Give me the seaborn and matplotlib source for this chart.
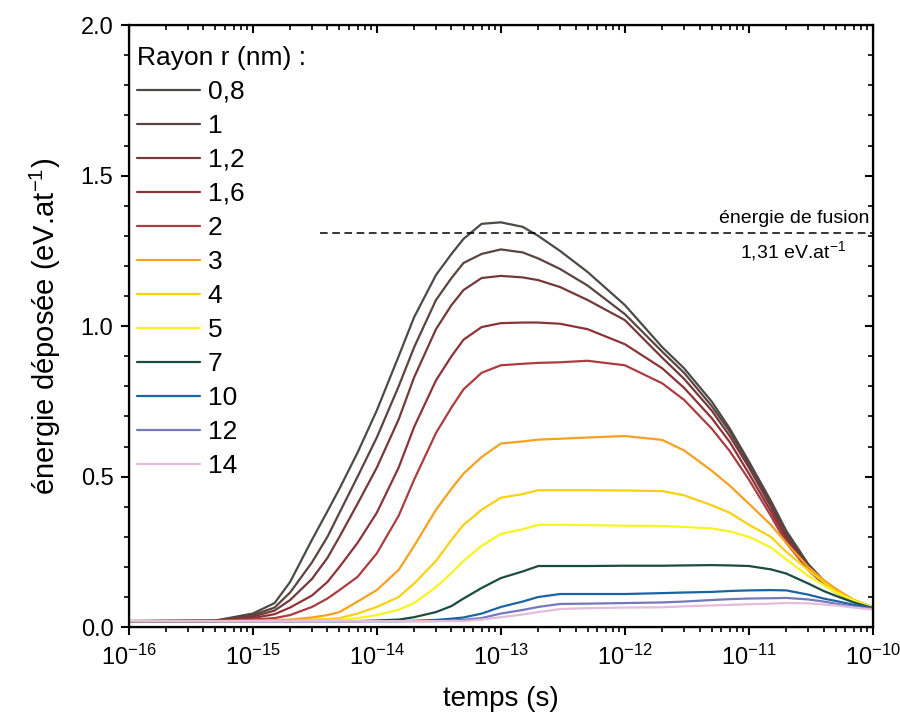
import matplotlib
matplotlib.use("Agg")
import matplotlib.pyplot as plt
import matplotlib.ticker as mticker
import numpy as np
import pandas as pd
import seaborn as sns

# time points (s)
temps = [1e-16, 5e-16, 1e-15, 1.5e-15, 2e-15, 3e-15, 4e-15, 5e-15, 7e-15, 1e-14,
         1.5e-14, 2e-14, 3e-14, 4e-14, 5e-14, 7e-14, 1e-13, 1.5e-13, 2e-13, 3e-13,
         5e-13, 1e-12, 2e-12, 3e-12, 5e-12, 7e-12, 1e-11, 1.5e-11, 2e-11, 3e-11,
         4e-11, 5e-11, 7e-11, 1e-10]

# deposited energy (eV/at) per radius
e_r08 = [0.02, 0.022, 0.045, 0.08, 0.15, 0.29, 0.385, 0.46, 0.58, 0.72,
         0.90, 1.03, 1.17, 1.24, 1.29, 1.34, 1.345, 1.33, 1.30, 1.25,
         1.18, 1.07, 0.93, 0.86, 0.75, 0.66, 0.55, 0.42, 0.32, 0.21,
         0.155, 0.125, 0.09, 0.065]
e_r1 = [0.02, 0.021, 0.04, 0.065, 0.115, 0.215, 0.30, 0.38, 0.50, 0.63,
        0.80, 0.93, 1.087, 1.16, 1.21, 1.24, 1.255, 1.245, 1.225, 1.19,
        1.135, 1.04, 0.915, 0.845, 0.735, 0.65, 0.54, 0.41, 0.31, 0.205,
        0.152, 0.122, 0.088, 0.065]
e_r12 = [0.02, 0.021, 0.035, 0.055, 0.09, 0.16, 0.23, 0.30, 0.41, 0.53,
         0.69, 0.83, 0.99, 1.07, 1.12, 1.16, 1.167, 1.162, 1.153, 1.13,
         1.087, 1.02, 0.895, 0.825, 0.72, 0.635, 0.53, 0.40, 0.30, 0.20,
         0.15, 0.12, 0.087, 0.065]
e_r16 = [0.02, 0.02, 0.03, 0.043, 0.065, 0.105, 0.15, 0.20, 0.28, 0.38,
         0.53, 0.665, 0.82, 0.90, 0.955, 0.997, 1.01, 1.012, 1.012, 1.008,
         0.99, 0.94, 0.86, 0.795, 0.695, 0.615, 0.51, 0.385, 0.29, 0.195,
         0.147, 0.118, 0.086, 0.065]
e_r2 = [0.02, 0.02, 0.025, 0.03, 0.04, 0.067, 0.095, 0.123, 0.167, 0.245,
        0.37, 0.49, 0.645, 0.73, 0.79, 0.845, 0.87, 0.875, 0.878, 0.88,
        0.885, 0.87, 0.81, 0.755, 0.66, 0.585, 0.49, 0.37, 0.28, 0.19,
        0.143, 0.115, 0.085, 0.065]
e_r3 = [0.02, 0.02, 0.022, 0.023, 0.025, 0.032, 0.04, 0.05, 0.085, 0.123,
        0.19, 0.27, 0.39, 0.46, 0.51, 0.565, 0.61, 0.617, 0.623, 0.626,
        0.63, 0.635, 0.622, 0.587, 0.52, 0.47, 0.41, 0.34, 0.28, 0.20,
        0.156, 0.128, 0.09, 0.065]
e_r4 = [0.02, 0.02, 0.02, 0.021, 0.022, 0.025, 0.027, 0.03, 0.045, 0.067,
        0.10, 0.145, 0.22, 0.29, 0.34, 0.39, 0.43, 0.442, 0.455, 0.455,
        0.455, 0.454, 0.452, 0.438, 0.405, 0.38, 0.34, 0.30, 0.25, 0.19,
        0.15, 0.12, 0.09, 0.065]
e_r5 = [0.02, 0.02, 0.02, 0.02, 0.02, 0.021, 0.022, 0.024, 0.03, 0.04,
        0.058, 0.08, 0.133, 0.18, 0.22, 0.27, 0.31, 0.325, 0.34, 0.34,
        0.339, 0.337, 0.336, 0.333, 0.328, 0.318, 0.30, 0.265, 0.225, 0.17,
        0.14, 0.115, 0.088, 0.065]
e_r7 = [0.02, 0.02, 0.02, 0.02, 0.02, 0.02, 0.02, 0.02, 0.02, 0.022,
        0.025, 0.033, 0.05, 0.07, 0.095, 0.13, 0.163, 0.185, 0.203, 0.203,
        0.203, 0.204, 0.204, 0.205, 0.206, 0.205, 0.203, 0.192, 0.178, 0.145,
        0.12, 0.104, 0.082, 0.063]
e_r10 = [0.02, 0.02, 0.02, 0.02, 0.02, 0.02, 0.02, 0.02, 0.02, 0.02,
         0.02, 0.021, 0.024, 0.028, 0.032, 0.045, 0.067, 0.085, 0.10, 0.11,
         0.11, 0.11, 0.113, 0.115, 0.117, 0.12, 0.122, 0.123, 0.122, 0.108,
         0.095, 0.087, 0.074, 0.063]
e_r12b = [0.02, 0.02, 0.02, 0.02, 0.02, 0.02, 0.02, 0.02, 0.02, 0.02,
          0.02, 0.02, 0.02, 0.022, 0.024, 0.03, 0.045, 0.057, 0.067, 0.077,
          0.078, 0.08, 0.082, 0.085, 0.09, 0.093, 0.095, 0.096, 0.097, 0.092,
          0.085, 0.078, 0.068, 0.06]
e_r14 = [0.02, 0.02, 0.02, 0.02, 0.02, 0.02, 0.02, 0.02, 0.02, 0.02,
         0.02, 0.02, 0.02, 0.02, 0.02, 0.025, 0.033, 0.042, 0.05, 0.06,
         0.063, 0.065, 0.066, 0.069, 0.072, 0.074, 0.076, 0.078, 0.08, 0.079,
         0.075, 0.072, 0.065, 0.058]

rayons = ["0,8", "1", "1,2", "1,6", "2", "3", "4", "5", "7", "10", "12", "14"]
series = [e_r08, e_r1, e_r12, e_r16, e_r2, e_r3, e_r4, e_r5, e_r7, e_r10, e_r12b, e_r14]
couleurs = ["#4a4a46", "#5a4440", "#74393a", "#8c3338", "#ac3c40", "#f8a020",
            "#fad010", "#f8f420", "#1a4c40", "#1a64a4", "#7478bc", "#e4bcdc"]

fusion = 1.31
x_ticks = [1e-16, 1e-15, 1e-14, 1e-13, 1e-12, 1e-11, 1e-10]

df = pd.concat([pd.DataFrame({"temps": temps, "energie": e, "rayon": r})
                for r, e in zip(rayons, series)], ignore_index=True)

sns.set_style("ticks")
plt.rcParams["font.family"] = ["Liberation Sans", "DejaVu Sans"]
plt.rcParams["mathtext.default"] = "regular"
for k in ["text.color", "axes.labelcolor", "xtick.color", "ytick.color", "axes.edgecolor"]:
    plt.rcParams[k] = "black"

fig = plt.figure(figsize=(9, 7.2), dpi=100)
ax = fig.add_axes([0.143, 0.129, 0.827, 0.836])

sns.lineplot(data=df, x="temps", y="energie", hue="rayon", hue_order=rayons,
             palette=couleurs, linewidth=1.6, ax=ax, legend=True)

ax.set_xscale("log")
ax.set_xlim(1e-16, 1e-10)
ax.set_ylim(0, 2.0)

# melting energy reference
ax.plot([3.5e-15, 1e-10], [fusion, fusion], color="black", linestyle=(0, (5, 3)), linewidth=1.1)
ax.text(9.3e-11, fusion + 0.02, "énergie de fusion", ha="right", va="bottom", fontsize=14)
ax.text(6.0e-11, fusion - 0.02, "1,31 eV.at$^{-1}$", ha="right", va="top", fontsize=14)

ax.set_xlabel("temps (s)", fontsize=20, labelpad=11)
ax.set_ylabel("énergie déposée (eV.at$^{-1}$)", fontsize=21, labelpad=13)

ax.set_xticks(x_ticks)
ax.xaxis.set_minor_locator(mticker.LogLocator(base=10, subs=np.arange(2, 10), numticks=20))
ax.xaxis.set_minor_formatter(mticker.NullFormatter())
ax.yaxis.set_major_locator(mticker.MultipleLocator(0.5))
ax.yaxis.set_minor_locator(mticker.MultipleLocator(0.1))
ax.yaxis.set_major_formatter(mticker.FormatStrFormatter("%.1f"))
ax.set_xlim(1e-16, 1e-10)

ax.tick_params(which="major", direction="out", length=6, width=1.5, labelsize=17, pad=5)
ax.tick_params(which="minor", direction="out", length=3.5, width=1.2)
ax.tick_params(axis="x", labelsize=17, pad=7)
for s in ax.spines.values():
    s.set_linewidth(1.6)

# mirrored inward ticks on top and right
ax_top = ax.twiny()
ax_top.set_xscale("log")
ax_top.set_xticks(x_ticks)
ax_top.xaxis.set_minor_locator(mticker.LogLocator(base=10, subs=np.arange(2, 10), numticks=20))
ax_top.set_xlim(1e-16, 1e-10)
ax_top.tick_params(which="major", direction="in", length=6, width=1.5)
ax_top.tick_params(which="minor", direction="in", length=3.5, width=1.2)
ax_top.tick_params(which="both", labeltop=False, labelbottom=False)
ax_right = ax.twinx()
ax_right.set_ylim(ax.get_ylim())
ax_right.yaxis.set_major_locator(mticker.MultipleLocator(0.5))
ax_right.yaxis.set_minor_locator(mticker.MultipleLocator(0.1))
ax_right.tick_params(which="major", direction="in", length=6, width=1.5)
ax_right.tick_params(which="minor", direction="in", length=3.5, width=1.2)
ax_right.tick_params(which="both", labelright=False, labelleft=False)

handles, labels = ax.get_legend_handles_labels()
leg = ax.legend(handles, labels, title="Rayon r (nm) :", loc="upper left",
                frameon=False, fontsize=19, title_fontsize=19, handlelength=2.4,
                handletextpad=0.3, labelspacing=0.38, borderaxespad=0.0, borderpad=0.3,
                alignment="left", bbox_to_anchor=(0.0, 0.979))
leg.set_zorder(5)

fig.savefig("out.png", dpi=100)
plt.close(fig)
